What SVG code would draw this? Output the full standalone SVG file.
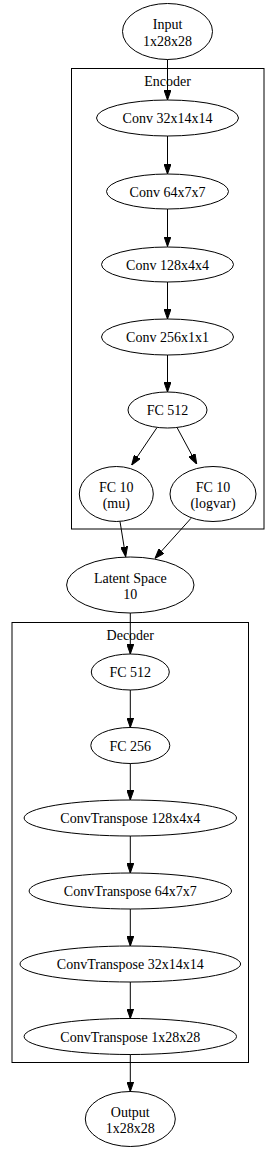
<svg xmlns="http://www.w3.org/2000/svg" width="276" height="1152" viewBox="0 0 276 1152">
<style>
  .cl{fill:none;stroke:#000;stroke-width:1}
  .nd{fill:none;stroke:#000;stroke-width:1}
  .tx{font-family:"Liberation Serif","Times New Roman",serif;font-size:14px;fill:#000;text-anchor:middle}
  .ed{fill:none;stroke:#000;stroke-width:1;marker-end:url(#ah)}
</style>
<defs>
  <marker id="ah" markerWidth="10" markerHeight="7" refX="10" refY="3.5" orient="auto" markerUnits="userSpaceOnUse">
    <path d="M0,0 L10,3.5 L0,7 Z" fill="#000" stroke="#000" stroke-width="1"/>
  </marker>
</defs>
<rect width="276" height="1152" fill="#fff"/>
<g id="cluster_encoder">
  <rect class="cl" x="71.5" y="68.5" width="192.5" height="460.5"/>
  <text class="tx" x="167.5" y="86">Encoder</text>
</g>
<g id="cluster_decoder">
  <rect class="cl" x="12" y="622.5" width="236.5" height="440"/>
  <text class="tx" x="130.3" y="640">Decoder</text>
</g>
<g id="edges">
  <line class="ed" x1="167.5" y1="59.5" x2="167.5" y2="100"/>
  <line class="ed" x1="167.5" y1="136" x2="167.5" y2="174"/>
  <line class="ed" x1="167.5" y1="209" x2="167.5" y2="246.5"/>
  <line class="ed" x1="167.5" y1="282" x2="167.5" y2="319"/>
  <line class="ed" x1="167.5" y1="355" x2="167.5" y2="392"/>
  <line class="ed" x1="156.7" y1="428" x2="131.7" y2="465"/>
  <line class="ed" x1="177.3" y1="428" x2="196.7" y2="464"/>
  <line class="ed" x1="120" y1="521.5" x2="125.7" y2="556.7"/>
  <line class="ed" x1="191" y1="518.3" x2="155" y2="558.3"/>
  <line class="ed" x1="130.3" y1="613" x2="130.3" y2="654"/>
  <line class="ed" x1="130.3" y1="690" x2="130.3" y2="727.5"/>
  <line class="ed" x1="130.3" y1="763.5" x2="130.3" y2="800"/>
  <line class="ed" x1="130.3" y1="836" x2="130.3" y2="873"/>
  <line class="ed" x1="130.3" y1="909" x2="130.3" y2="946"/>
  <line class="ed" x1="130.3" y1="982" x2="130.3" y2="1018.5"/>
  <line class="ed" x1="130.3" y1="1054.5" x2="130.3" y2="1091.5"/>
</g>
<g id="input">
  <ellipse class="nd" cx="167.5" cy="31.5" rx="45" ry="28"/>
  <text class="tx" x="167.5" y="29">Input</text>
  <text class="tx" x="167.5" y="46">1x28x28</text>
</g>
<g id="enc_conv1">
  <ellipse class="nd" cx="167.5" cy="118" rx="71" ry="18"/>
  <text class="tx" x="167.5" y="123">Conv 32x14x14</text>
</g>
<g id="enc_conv2">
  <ellipse class="nd" cx="167.5" cy="191.5" rx="61" ry="17.5"/>
  <text class="tx" x="167.5" y="196.5">Conv 64x7x7</text>
</g>
<g id="enc_conv3">
  <ellipse class="nd" cx="167.5" cy="264.5" rx="66" ry="17.5"/>
  <text class="tx" x="167.5" y="269.5">Conv 128x4x4</text>
</g>
<g id="enc_conv4">
  <ellipse class="nd" cx="167.5" cy="337" rx="66" ry="18"/>
  <text class="tx" x="167.5" y="342">Conv 256x1x1</text>
</g>
<g id="enc_fc">
  <ellipse class="nd" cx="167.5" cy="410" rx="39.5" ry="18"/>
  <text class="tx" x="167.5" y="415">FC 512</text>
</g>
<g id="fc_mu">
  <ellipse class="nd" cx="116.3" cy="494" rx="37" ry="27.5"/>
  <text class="tx" x="116.3" y="491.5">FC 10</text>
  <text class="tx" x="116.3" y="508">(mu)</text>
</g>
<g id="fc_logvar">
  <ellipse class="nd" cx="213" cy="494" rx="43" ry="27.5"/>
  <text class="tx" x="213" y="491.5">FC 10</text>
  <text class="tx" x="213" y="508">(logvar)</text>
</g>
<g id="latent">
  <ellipse class="nd" cx="130.3" cy="585" rx="63.7" ry="28"/>
  <text class="tx" x="130.3" y="582.5">Latent Space</text>
  <text class="tx" x="130.3" y="599">10</text>
</g>
<g id="dec_fc1">
  <ellipse class="nd" cx="130.3" cy="672" rx="39" ry="18"/>
  <text class="tx" x="130.3" y="677">FC 512</text>
</g>
<g id="dec_fc2">
  <ellipse class="nd" cx="130.3" cy="745.5" rx="39.5" ry="18"/>
  <text class="tx" x="130.3" y="750.5">FC 256</text>
</g>
<g id="dec_ct1">
  <ellipse class="nd" cx="130.3" cy="818" rx="106.2" ry="18"/>
  <text class="tx" x="130.3" y="823">ConvTranspose 128x4x4</text>
</g>
<g id="dec_ct2">
  <ellipse class="nd" cx="130.3" cy="891" rx="101.2" ry="18"/>
  <text class="tx" x="130.3" y="896">ConvTranspose 64x7x7</text>
</g>
<g id="dec_ct3">
  <ellipse class="nd" cx="130.3" cy="964" rx="110.3" ry="18"/>
  <text class="tx" x="130.3" y="969">ConvTranspose 32x14x14</text>
</g>
<g id="dec_ct4">
  <ellipse class="nd" cx="130.3" cy="1036.5" rx="106.2" ry="18"/>
  <text class="tx" x="130.3" y="1041.5">ConvTranspose 1x28x28</text>
</g>
<g id="output">
  <ellipse class="nd" cx="130.3" cy="1119" rx="45" ry="27.5"/>
  <text class="tx" x="130.3" y="1116.5">Output</text>
  <text class="tx" x="130.3" y="1133">1x28x28</text>
</g>
</svg>
